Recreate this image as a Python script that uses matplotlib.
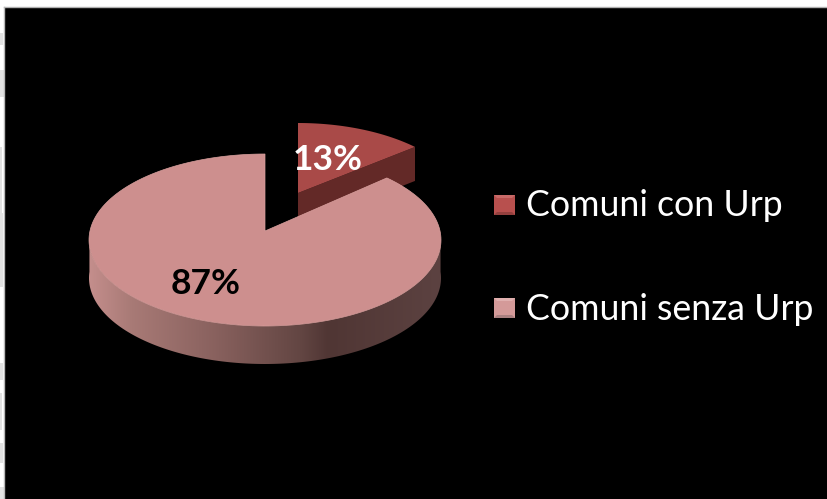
import numpy as np
import matplotlib
matplotlib.use("Agg")
import matplotlib.pyplot as plt
from matplotlib.patches import Polygon, Rectangle
from matplotlib.colors import LinearSegmentedColormap

labels = ["Comuni con Urp", "Comuni senza Urp"]
shares = [13, 87]
share_labels = ["13%", "87%"]

TOP_COLORS = ["#a94a48", "#cd8f8e"]
SIDE_COLOR = "#632927"

W, H = 828, 499
fig = plt.figure(figsize=(W / 100, H / 100), dpi=100, facecolor="white")
ax = fig.add_axes([0, 0, 1, 1])
ax.axis("off")

# Slide background with its thin grey top and left edges
ax.add_patch(Rectangle((4.5, 6.5), W, H, fc="black", ec="none", zorder=1))
ax.plot([4.5, W], [6.5, 6.5], color="#b0b0b0", lw=1.0, zorder=2)
ax.plot([4.5, 4.5], [6.5, H], color="#b8b8b8", lw=1.0, zorder=2)

# Pale texture showing in the white strip on the left
for y0, y1, w in [(33, 45, 3), (70, 97, 4), (147, 213, 2), (213, 287, 3),
                  (363, 380, 3), (393, 430, 2), (443, 463, 3), (487, 499, 4)]:
    ax.add_patch(Rectangle((0, y0), w, y1 - y0, fc="#e2e2e2", ec="none", zorder=1))

RX, RY, DEPTH = 176, 86, 38


def view_angle(a):
    """Foreshortening of the tilted pie: angle on screen for a true angle."""
    return a - 4.1 * np.sin(np.radians(a))


def rim(cx, cy, a0, a1, rx=RX, ry=RY, n=200):
    """Points along the ellipse, angles measured clockwise from 12 o'clock."""
    t = np.radians(view_angle(np.linspace(a0, a1, n)))
    return np.column_stack([cx + rx * np.sin(t), cy - ry * np.cos(t)])


small_deg = 360 * shares[0] / sum(shares)
big_end = small_deg + 360 * shares[1] / sum(shares)

# Detached small slice: side walls, then top face
sx, sy, s_apex = 298, 209, 193
s_edge = rim(sx, sy, 0, small_deg, rx=169)
wall_d = 34
far = s_edge[-1]
ax.add_patch(Polygon([(sx, s_apex), far, far + [0, wall_d], (sx, s_apex + wall_d)],
                     fc=SIDE_COLOR, ec="none", zorder=2))
ax.add_patch(Polygon(np.vstack([[sx, s_apex], s_edge]), fc=TOP_COLORS[0], ec="none", zorder=3))

# Large slice: outer wall with a horizontal shading, then top face
bx, by, b_apex = 265, 240, 231
front = rim(bx, by, 90, 270)
wall = np.vstack([front, (front + [0, DEPTH])[::-1]])
shade = LinearSegmentedColormap.from_list("wall", [
    (0.00, "#c48e8c"), (0.12, "#a87a76"), (0.35, "#8a625f"),
    (0.60, "#634643"), (0.68, "#503634"), (1.00, "#5c4241")])
grad = np.linspace(0, 1, 256).reshape(1, -1)
im = ax.imshow(grad, cmap=shade, vmin=0, vmax=1, aspect="auto",
               extent=(bx - RX, bx + RX, by + RY + DEPTH, by), zorder=4)
clip = Polygon(wall, transform=ax.transData, fc="none", ec="none")
ax.add_patch(clip)
im.set_clip_path(clip)

b_edge = rim(bx, by, small_deg, big_end)
ax.add_patch(Polygon(np.vstack([[bx, b_apex], b_edge]), fc=TOP_COLORS[1],
                     ec="#d9a09e", lw=0.5, zorder=5))

# Percentage labels
pct_font = dict(family="Lato", weight="bold", fontsize=25.5, ha="center", va="center", zorder=7)
ax.text(328, 160, share_labels[0], color="white", **pct_font)
ax.text(206, 284.5, share_labels[1], color="black", **pct_font)

# Legend
for label, color, y, hi, lo in zip(labels, ["#b8504e", "#d49a99"], [205, 308],
                                   ["#c86a68", "#e0b0af"], ["#94403e", "#aa8080"]):
    x0, x1, y0, y1 = 494, 515, y - 10, y + 10
    ax.add_patch(Rectangle((x0, y0), x1 - x0, y1 - y0, fc=color, ec="none", zorder=6))
    ax.add_patch(Polygon([(x0, y0), (x1, y0), (x1 - 3, y0 + 3), (x0 + 3, y0 + 3)], fc=hi, ec="none", zorder=6))
    ax.add_patch(Polygon([(x0, y1), (x1, y1), (x1 - 3, y1 - 3), (x0 + 3, y1 - 3)], fc=lo, ec="none", zorder=6))
    ax.text(526, y + 1, label, color="white", family="Lato", fontsize=25.7,
            ha="left", va="center", zorder=7)

ax.set_xlim(0, W)
ax.set_ylim(H, 0)
fig.savefig("out.png", dpi=100, facecolor="white")
